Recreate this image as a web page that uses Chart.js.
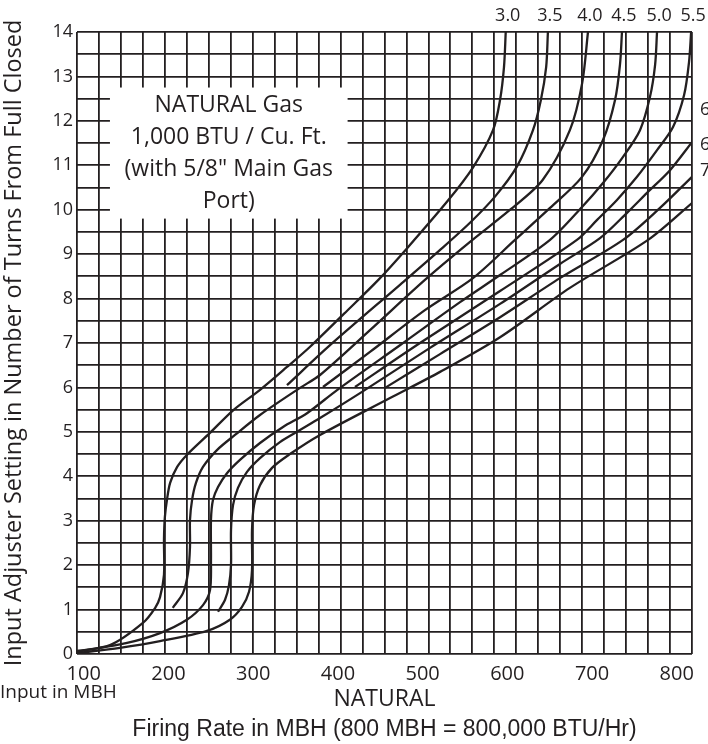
<!DOCTYPE html>
<html>
<head>
<meta charset="utf-8">
<script src="https://cdn.jsdelivr.net/npm/chart.js@4.4.1/dist/chart.umd.min.js"></script>
<style>
  html, body { margin: 0; padding: 0; background: #fff; }
</style>
</head>
<body>
<canvas id="chart" width="708" height="744"></canvas>
<script>
const ink = '#231f20';

// axis values
const xTickValues = [100, 200, 300, 400, 500, 600, 700, 800];
const yTickValues = [0, 1, 2, 3, 4, 5, 6, 7, 8, 9, 10, 11, 12, 13, 14];

// one curve per adjuster label, points are [firing rate MBH, turns]
const curveLabels = ['3.0', '3.5', '4.0', '4.5', '5.0', '5.5', '6.0', '6.5', '7.0'];

const curve30 = [[100, 0.07], [137.6, 0.2], [175, 0.7], [189, 1.04], [194.5, 1.28], [199, 1.78], [199, 2.57],
    [200, 3.08], [202.4, 3.47], [206, 3.85], [214, 4.21], [225, 4.48], [251, 4.97], [278, 5.49], [308, 5.94],
    [339, 6.46], [365, 6.91], [404, 7.66], [443, 8.42], [476, 9.14], [522, 10.2], [551, 10.96],
    [573.5, 11.79], [581.5, 12.47], [586, 13.21], [588, 14.0]];
const curve35 = [[339, 6.05], [388, 6.95], [467.6, 8.31], [513, 9.09], [547, 9.7], [576, 10.3], [601, 10.98],
    [619, 11.79], [628, 12.47], [634, 13.21], [636, 14.0]];
const curve40 = [[209, 1.04], [220.6, 1.37], [226.3, 1.82], [228.6, 2.41], [228.6, 3.02], [231, 3.47], [235.4, 3.85],
    [243.4, 4.21], [259.3, 4.59], [279.8, 4.93], [308.3, 5.38], [353.8, 5.99], [376.6, 6.28], [433.5, 7.29],
    [496, 8.42], [547, 9.27], [593, 10.0], [630, 10.67], [661, 11.79], [675, 12.85], [681.6, 14.0]];
const curve45 = [[380, 6.01], [433.5, 6.8], [496, 7.74], [550.7, 8.46], [598.5, 9.32], [638.4, 10.04], [674.8, 10.74],
    [698.7, 11.57], [712.4, 12.47], [718, 13.26], [720.3, 14.0]];
const curve50 = [[100, 0.05], [157, 0.25], [194.5, 0.47], [225, 0.77], [243.4, 1.1], [251.4, 1.44], [252.5, 2.12],
    [252.5, 3.02], [254.8, 3.47], [260.5, 3.76], [270.7, 4.07], [285.5, 4.37], [308.3, 4.75], [334.5, 5.11],
    [361.8, 5.42], [396, 5.94], [467.6, 6.95], [536, 7.92], [581.5, 8.53], [638.4, 9.32], [674.8, 10.06],
    [698.7, 10.6], [721.5, 11.19], [740.8, 11.79], [752.2, 12.54], [758, 13.26], [760.2, 14.0]];
const curve55 = [[416.4, 6.01], [490.4, 7.0], [581.5, 8.17], [669, 9.32], [692, 9.77], [714.6, 10.22], [737.4, 10.74],
    [760.2, 11.34], [778.4, 11.86], [791, 12.58], [796.6, 13.32], [799, 14.0]];
const curve60 = [[260.5, 0.95], [268.5, 1.22], [273, 1.55], [275.3, 2.0], [275.3, 2.79], [277.6, 3.35], [283.2, 3.74],
    [293.5, 4.1], [308.3, 4.41], [331, 4.77], [353.8, 5.04], [376.6, 5.31], [424.4, 5.9], [501.8, 6.89],
    [581.5, 7.88], [649.7, 8.78], [695.3, 9.36], [726, 9.93], [748.8, 10.38], [775, 10.89], [800, 11.52]];
const curve65 = [[450.6, 5.99], [513.2, 6.75], [581.5, 7.58], [649.7, 8.46], [721.5, 9.32], [763.6, 10.04], [800, 10.74]];
const curve70 = [[100, 0.02], [148.9, 0.14], [194.5, 0.29], [248, 0.52], [274, 0.77], [287.8, 1.06], [295.8, 1.4],
    [299.2, 1.89], [299.2, 2.79], [301.5, 3.35], [308.3, 3.8], [322, 4.19], [342.4, 4.5], [376.6, 4.93],
    [456.3, 5.76], [513.2, 6.35], [581.5, 7.13], [661, 8.24], [750, 9.32], [800, 10.15]];

const curves = [curve30, curve35, curve40, curve45, curve50, curve55, curve60, curve65, curve70];

// white note box, in chart units
const noteBox = {xMin: 137.5, xMax: 408, yMin: 9.8, yMax: 12.75};
const noteLines = ['NATURAL Gas', '1,000 BTU / Cu. Ft.', '(with 5/8" Main Gas', 'Port)'];

Chart.defaults.font.family = '"Open Sans"';
Chart.defaults.color = ink;

const chartNotes = {
    id: 'chartNotes',
    beforeDatasetsDraw(chart) {
        const {ctx, scales: {x, y}} = chart;
        const l = x.getPixelForValue(noteBox.xMin), r = x.getPixelForValue(noteBox.xMax);
        const t = y.getPixelForValue(noteBox.yMax), b = y.getPixelForValue(noteBox.yMin);
        ctx.save();
        ctx.fillStyle = '#fff';
        ctx.fillRect(l, t, r - l, b - t);
        ctx.fillStyle = ink;
        ctx.font = '23px "Open Sans"';
        ctx.textAlign = 'center';
        ctx.textBaseline = 'middle';
        const cx = (l + r) / 2, cy = (t + b) / 2;
        noteLines.forEach((s, i) => {
            ctx.fillText(s, cx, cy + (i - (noteLines.length - 1) / 2) * 32);
        });
        ctx.restore();
    },
    afterDraw(chart) {
        const {ctx, chartArea: area, scales: {x, y}} = chart;
        ctx.save();
        ctx.fillStyle = ink;
        ctx.font = '18px "Open Sans"';
        ctx.textBaseline = 'middle';
        chart.data.datasets.forEach(ds => {
            const last = ds.data[ds.data.length - 1];
            if (last.y >= 14) {
                ctx.textAlign = 'center';
                ctx.fillText(ds.label, x.getPixelForValue(last.x) + 2, area.top - 16);
            } else {
                ctx.textAlign = 'left';
                ctx.fillText(ds.label, area.right + 8, y.getPixelForValue(last.y) - 32);
            }
        });
        ctx.font = '19px "Open Sans"';
        ctx.textAlign = 'left';
        ctx.fillText('Input in MBH', 0, area.bottom + 39);
        ctx.restore();
    }
};

new Chart(document.getElementById('chart'), {
    type: 'line',
    data: {
        datasets: curves.map((pts, i) => ({
            label: curveLabels[i],
            data: pts.map(p => ({x: p[0], y: p[1]})),
            borderColor: ink,
            borderWidth: 2.3,
            pointRadius: 0,
            tension: 0.3,
            fill: false,
            xAxisID: 'x',
            yAxisID: 'y'
        }))
    },
    options: {
        responsive: false,
        animation: false,
        layout: {padding: {top: 32, right: 16, left: 0, bottom: 0}},
        plugins: {legend: {display: false}, tooltip: {enabled: false}},
        scales: {
            x: {
                type: 'linear', position: 'bottom', min: 100, max: 800, weight: 0,
                ticks: {display: false, stepSize: 25, autoSkip: false, maxTicksLimit: 100},
                grid: {color: ink, lineWidth: 1.8, drawTicks: false},
                border: {display: false},
                afterFit: s => { s.height = 0; }
            },
            xLabel: {
                type: 'linear', position: 'bottom', min: 92, max: 818, weight: 1,
                grid: {display: false, drawTicks: false},
                border: {display: false},
                afterBuildTicks: s => { s.ticks = xTickValues.map(v => ({value: v})); },
                ticks: {font: {size: 20}, padding: 8, maxRotation: 0, autoSkip: false},
                title: {display: true, text: 'NATURAL', font: {size: 23}, padding: {top: 0, bottom: 2}},
                afterFit: s => { s.height = 61; }
            },
            xTitle: {
                type: 'linear', position: 'bottom', min: 0, max: 1, weight: 2,
                grid: {display: false, drawTicks: false},
                border: {display: false},
                ticks: {display: false},
                title: {
                    display: true, text: 'Firing Rate in MBH (800 MBH = 800,000 BTU/Hr)',
                    font: {family: '"Liberation Sans"', size: 23}, padding: {top: 0, bottom: 1}
                },
                afterFit: s => { s.height = 29; }
            },
            y: {
                min: 0, max: 14,
                ticks: {
                    stepSize: 0.5, autoSkip: false, maxTicksLimit: 100, padding: 4, font: {size: 18},
                    callback: v => (yTickValues.includes(v) ? String(v) : '')
                },
                grid: {color: ink, lineWidth: 1.8, drawTicks: false},
                border: {display: false},
                title: {
                    display: true, text: 'Input Adjuster Setting in Number of Turns From Full Closed',
                    font: {size: 23.5}, padding: 0
                },
                afterFit: s => { s.width = 77; }
            }
        }
    },
    plugins: [chartNotes]
});
</script>
</body>
</html>
